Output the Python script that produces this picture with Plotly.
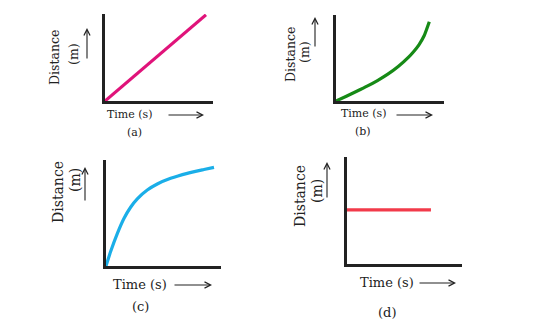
import plotly.graph_objects as go

W, H = 540, 327

# ---- data ----
time_a = [0, 9.35]
dist_a = [0, 10]

time_b = [0, 0.96, 1.92, 2.88, 3.84, 4.8, 5.76, 6.72, 7.2, 7.68, 8.16, 8.64]
dist_b = [0, 0.56, 1.14, 1.74, 2.4, 3.15, 4.05, 5.15, 5.82, 6.6, 7.66, 9.31]

time_c = [0, 0.41, 0.99, 1.57, 2.14, 2.72, 3.59, 4.46, 5.62, 7.07, 8.52, 9.39]
dist_c = [0, 1.4, 3.11, 4.55, 5.6, 6.4, 7.24, 7.81, 8.35, 8.83, 9.19, 9.4]

time_d = [0, 7.3]
dist_d = [5.1, 5.1]

panel_labels = ["(a)", "(b)", "(c)", "(d)"]
x_title = "Time (s)"
y_title_1 = "Distance"
y_title_2 = "(m)"

colors = ["#e0137a", "#168a16", "#1aaee8", "#f23a4a"]

def px(x):
    return x / W

def py(y):
    return 1 - y / H

# panel pixel boxes: (left, right, top, bottom)
boxes = [(105, 213, 14, 101), (336, 444, 15, 101), (106, 221, 160, 266), (347, 462, 157, 264)]

fig = go.Figure()
series = [(time_a, dist_a, "linear"), (time_b, dist_b, "spline"),
          (time_c, dist_c, "spline"), (time_d, dist_d, "linear")]

layout = dict(
    width=W, height=H, margin=dict(l=0, r=0, t=0, b=0),
    paper_bgcolor="white", plot_bgcolor="white", showlegend=False,
)

for i, ((t, d, shape), (l, r, tp, bt)) in enumerate(zip(series, boxes)):
    n = "" if i == 0 else str(i + 1)
    fig.add_trace(go.Scatter(x=t, y=d, mode="lines", xaxis="x" + n, yaxis="y" + n,
                             line=dict(color=colors[i], width=3.2, shape=shape, smoothing=0.5),
                             hoverinfo="skip"))
    ax = dict(domain=[px(l), px(r)], range=[0, 10], showgrid=False, zeroline=False,
              showticklabels=False, ticks="", showline=True, linecolor="#222", linewidth=2.5,
              fixedrange=True)
    ay = dict(domain=[py(bt), py(tp)], range=[0, 10.1], showgrid=False, zeroline=False,
              showticklabels=False, ticks="", showline=True, linecolor="#222", linewidth=2.5,
              fixedrange=True)
    ax["anchor"] = "y" + n
    ay["anchor"] = "x" + n
    layout["xaxis" + n] = ax
    layout["yaxis" + n] = ay

fig.update_layout(**layout)

FONT = "DejaVu Serif"
ann = []

cfg = [
    dict(time=(130, 114), rarr=(167, 204, 115), lab=(134, 133), dist=(55, 58), m=(73, 54),
         uarr=(87, 60, 28), fs=11, dfs=12.5),
    dict(time=(364, 113), rarr=(395, 433, 115), lab=(363, 131), dist=(290, 55), m=(305, 52),
         uarr=(315, 48, 17), fs=11, dfs=12.5),
    dict(time=(140, 284), rarr=(173, 212, 285), lab=(140, 306), dist=(58, 192), m=(75, 180),
         uarr=(85, 202, 167), fs=13, dfs=14),
    dict(time=(387, 282), rarr=(418, 456, 283), lab=(387, 312), dist=(300, 196), m=(317, 191),
         uarr=(327, 199, 162), fs=13, dfs=14),
]

for i, c in enumerate(cfg):
    f = dict(family=FONT, size=c["fs"], color="#222")
    fd = dict(family=FONT, size=c["dfs"], color="#222")
    ann.append(dict(x=px(c["time"][0]), y=py(c["time"][1]), xref="paper", yref="paper",
                    text=x_title, showarrow=False, font=f, xanchor="center", yanchor="middle"))
    ann.append(dict(x=px(c["lab"][0]), y=py(c["lab"][1]), xref="paper", yref="paper",
                    text=panel_labels[i], showarrow=False, font=f, xanchor="center", yanchor="middle"))
    ann.append(dict(x=px(c["dist"][0]), y=py(c["dist"][1]), xref="paper", yref="paper",
                    text=y_title_1, showarrow=False, font=fd, textangle=-90,
                    xanchor="center", yanchor="middle"))
    ann.append(dict(x=px(c["m"][0]), y=py(c["m"][1]), xref="paper", yref="paper",
                    text=y_title_2, showarrow=False, font=fd, textangle=-90,
                    xanchor="center", yanchor="middle"))
    tx, hx, ry = c["rarr"]
    ann.append(dict(x=px(hx), y=py(ry), xref="paper", yref="paper", text="", showarrow=True,
                    ax=tx - hx, ay=0, arrowhead=5, arrowsize=1.1, arrowwidth=1.1,
                    arrowcolor="#222"))
    ux, uty, uhy = c["uarr"]
    ann.append(dict(x=px(ux), y=py(uhy), xref="paper", yref="paper", text="", showarrow=True,
                    ax=0, ay=uty - uhy, arrowhead=5, arrowsize=1.1, arrowwidth=1.1,
                    arrowcolor="#222"))

fig.update_layout(annotations=ann)
fig.write_html("out.html", config={"displayModeBar": False})
